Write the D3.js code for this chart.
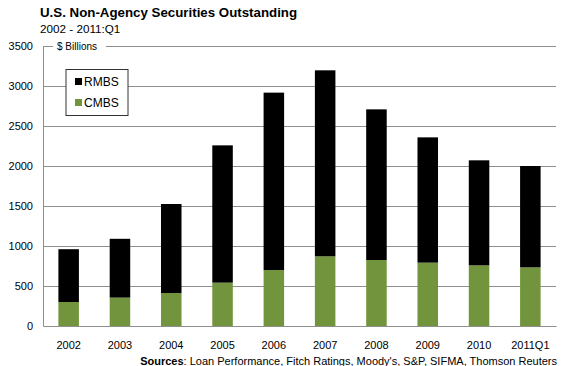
<!DOCTYPE html>
<html>
<head>
<meta charset="utf-8">
<script src="https://cdn.jsdelivr.net/npm/d3@7"></script>
<style>
  html, body { margin: 0; padding: 0; background: #fff; }
  svg { display: block; font-family: "Liberation Sans", Arial, sans-serif; }
</style>
</head>
<body>
<svg id="chart" width="563" height="366"></svg>
<script>
// Non-agency securities outstanding, $ billions
const categories = ["2002", "2003", "2004", "2005", "2006", "2007", "2008", "2009", "2010", "2011Q1"];
const cmbs = [300, 355, 412, 542, 700, 871, 825, 792, 758, 733];
const rmbs = [660, 735, 1113, 1716, 2217, 2325, 1883, 1566, 1313, 1267];
const yTicks = [0, 500, 1000, 1500, 2000, 2500, 3000, 3500];
const seriesNames = ["RMBS", "CMBS"];
const seriesColors = { RMBS: "#000000", CMBS: "#72943d" };

const svg = d3.select("#chart");
const margin = { left: 43, right: 7, top: 46, bottom: 40 };
const W = 563, H = 366;

const x = d3.scaleBand().domain(categories)
  .range([margin.left, W - margin.right]).paddingInner(0.6).paddingOuter(0.3);
const y = d3.scaleLinear().domain([0, 3500]).range([H - margin.bottom, margin.top]);

// gridlines
svg.append("g").selectAll("line").data(yTicks.filter(d => d > 0)).join("line")
  .attr("x1", margin.left).attr("x2", W - margin.right)
  .attr("y1", d => y(d)).attr("y2", d => y(d))
  .attr("stroke", "#8e8e8e").attr("stroke-width", 1).attr("shape-rendering", "crispEdges");

// stacked bars
const rows = categories.map((c, i) => ({ cat: c, CMBS: cmbs[i], RMBS: rmbs[i] }));
const stack = d3.stack().keys(["CMBS", "RMBS"])(rows);
svg.append("g").selectAll("g").data(stack).join("g")
  .attr("fill", d => seriesColors[d.key])
  .selectAll("rect").data(d => d).join("rect")
  .attr("x", d => x(d.data.cat))
  .attr("width", x.bandwidth())
  .attr("y", d => y(d[1]))
  .attr("height", d => y(d[0]) - y(d[1]));

// axes
const yAxis = svg.append("g").attr("transform", `translate(${margin.left},0)`)
  .call(d3.axisLeft(y).tickValues(yTicks).tickFormat(d3.format("d")).tickSize(0).tickPadding(10));
yAxis.select(".domain").attr("stroke", "#8e8e8e");
yAxis.selectAll("text").attr("font-size", 11).attr("fill", "#000")
  .attr("font-family", "Liberation Sans, Arial, sans-serif");

const xAxis = svg.append("g").attr("transform", `translate(0,${H - margin.bottom})`)
  .call(d3.axisBottom(x).tickSize(0).tickPadding(15));
xAxis.select(".domain").attr("stroke", "#8e8e8e");
xAxis.selectAll("text").attr("font-size", 11).attr("fill", "#000")
  .attr("font-family", "Liberation Sans, Arial, sans-serif");

// units label over the top gridline
const unit = svg.append("g");
unit.append("rect").attr("x", 53).attr("y", y(3500) - 7).attr("width", 53).attr("height", 14).attr("fill", "#fff");
unit.append("text").attr("x", 57).attr("y", y(3500) + 4).attr("font-size", 10).text("$ Billions");

// legend
const lg = svg.append("g");
lg.append("rect").attr("x", 66).attr("y", 69.5).attr("width", 62).attr("height", 46)
  .attr("fill", "#fff").attr("stroke", "#333").attr("stroke-width", 1);
seriesNames.forEach((s, i) => {
  lg.append("rect").attr("x", 75).attr("y", 78 + i * 21).attr("width", 7).attr("height", 7)
    .attr("fill", seriesColors[s]);
  lg.append("text").attr("x", 84).attr("y", 86 + i * 21).attr("font-size", 12).text(s);
});

// titles
svg.append("text").attr("x", 40).attr("y", 17).attr("font-size", 13.3).attr("font-weight", "bold")
  .text("U.S. Non-Agency Securities Outstanding");
svg.append("text").attr("x", 40).attr("y", 33).attr("font-size", 11.7)
  .text("2002 - 2011:Q1");

// sources
const src = svg.append("text").attr("x", 557).attr("y", 365).attr("text-anchor", "end").attr("font-size", 11);
src.append("tspan").attr("font-weight", "bold").text("Sources");
src.append("tspan").text(": Loan Performance, Fitch Ratings, Moody's, S&P, SIFMA, Thomson Reuters");
</script>
</body>
</html>
